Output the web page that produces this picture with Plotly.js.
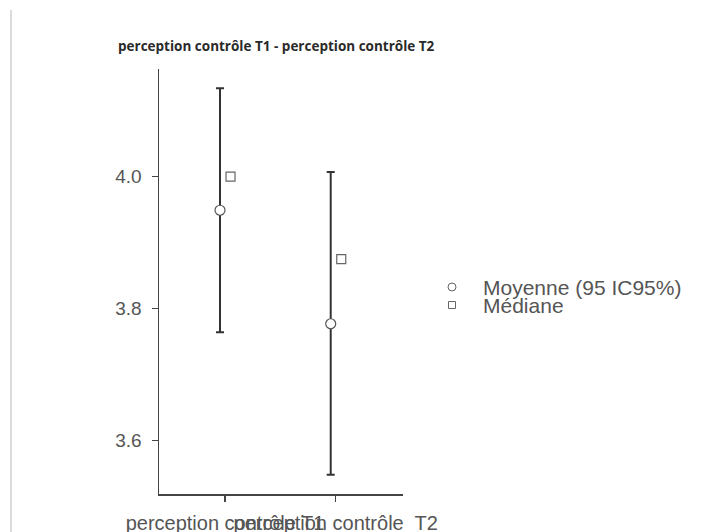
<!DOCTYPE html>
<html>
<head>
<meta charset="utf-8">
<script src="https://cdn.plot.ly/plotly-3.0.1.min.js"></script>
<style>html,body{margin:0;padding:0;background:#fff;}#chart{width:721px;height:532px;}</style>
</head>
<body>
<div id="chart"></div>
<script>
// ---- data ----
const categories = ["perception contrôle T1", "perception contrôle\u00a0 T2"];
const meanValues = [3.949, 3.777];
const ciLower = [3.764, 3.548];
const ciUpper = [4.134, 4.007];
const medianValues = [4.0, 3.875];
const yTickVals = [3.6, 3.8, 4.0];
const yTickText = ["3.6", "3.8", "4.0"];
const legendNames = ["Moyenne (95 IC95%)", "Médiane"];
const chartTitle = "perception contrôle T1 - perception contrôle T2";

// plot-area geometry in pixels (for converting layout positions)
const PL = 159, PR = 403, PT = 69, PB = 494;
const px2x = p => (p - PL) / (PR - PL);
const px2y = p => (PB - p) / (PB - PT);

// positions (category index with small dodge)
const idx = categories.map((c, i) => i + 1);
const meanX = idx.map(v => v - 0.045);
const medX = idx.map(v => v + 0.05);

const traces = [
  {
    x: meanX, y: meanValues, type: "scatter", mode: "markers",
    showlegend: false, hoverinfo: "skip",
    marker: {size: 1, opacity: 0},
    error_y: {
      type: "data", symmetric: false,
      array: meanValues.map((m, i) => ciUpper[i] - m),
      arrayminus: meanValues.map((m, i) => m - ciLower[i]),
      color: "#333333", thickness: 2, width: 4
    }
  },
  {
    x: meanX, y: meanValues, type: "scatter", mode: "markers",
    name: legendNames[0], showlegend: false,
    marker: {symbol: "circle", size: 10, color: "#ffffff", line: {color: "#555555", width: 1.2}}
  },
  {
    x: medX, y: medianValues, type: "scatter", mode: "markers",
    name: legendNames[1], showlegend: false,
    marker: {symbol: "square", size: 9, color: "#ffffff", line: {color: "#666666", width: 1.2}}
  }
];

// legend drawn as annotations + symbol shapes (tight row spacing as in reference)
const legendRowsY = [287, 305];
const legendSymX = 452, legendTextX = 481;
const annotations = legendNames.map((n, i) => ({
  xref: "paper", yref: "paper", x: px2x(legendTextX), y: px2y(legendRowsY[i]),
  xanchor: "left", yanchor: "middle", showarrow: false, text: n,
  font: {family: "Liberation Sans, Arial, sans-serif", size: 21, color: "#555555"}
}));

const shapes = [
  {type: "line", xref: "paper", yref: "paper",
   x0: px2x(11), x1: px2x(11), y0: px2y(532), y1: px2y(10),
   line: {color: "#d0d0d0", width: 1.5}},
  {type: "circle", xref: "paper", yref: "paper", xsizemode: "pixel", ysizemode: "pixel",
   xanchor: px2x(legendSymX), yanchor: px2y(legendRowsY[0]), x0: -4, x1: 4, y0: -4, y1: 4,
   line: {color: "#666666", width: 1}, fillcolor: "#ffffff"},
  {type: "rect", xref: "paper", yref: "paper", xsizemode: "pixel", ysizemode: "pixel",
   xanchor: px2x(legendSymX), yanchor: px2y(legendRowsY[1]), x0: -3.5, x1: 3.5, y0: -3.5, y1: 3.5,
   line: {color: "#666666", width: 1}, fillcolor: "#ffffff"}
];

const layout = {
  width: 721, height: 532,
  paper_bgcolor: "#ffffff", plot_bgcolor: "#ffffff",
  margin: {l: PL, r: 721 - PR, t: PT, b: 532 - PB, pad: 0},
  font: {family: "Liberation Sans, Arial, sans-serif", color: "#555555"},
  showlegend: false,
  title: {
    text: "<b>" + chartTitle + "</b>",
    x: 118 / 721, xanchor: "left", xref: "container",
    y: 1 - 46 / 532, yanchor: "middle", yref: "container",
    font: {family: "Open Sans, Segoe UI, sans-serif", size: 13.5, color: "#2a2a2a"}
  },
  xaxis: {
    range: [0.404, 2.608], tickvals: idx, ticktext: categories, tickangle: 0,
    showgrid: false, zeroline: false, showline: true,
    linecolor: "#444444", linewidth: 1.5,
    ticks: "outside", ticklen: 6, tickwidth: 1.5, tickcolor: "#444444",
    ticklabelstandoff: 4,
    tickfont: {size: 20, color: "#555555"}, fixedrange: true
  },
  yaxis: {
    range: [3.519, 4.163], tickvals: yTickVals, ticktext: yTickText,
    showgrid: false, zeroline: false, showline: true,
    linecolor: "#444444", linewidth: 1.5,
    ticks: "outside", ticklen: 6, tickwidth: 1.5, tickcolor: "#444444",
    ticklabelstandoff: 6,
    tickfont: {size: 19, color: "#555555"}, fixedrange: true
  },
  annotations: annotations,
  shapes: shapes
};

Plotly.newPlot("chart", traces, layout, {displayModeBar: false, staticPlot: true});
</script>
</body>
</html>
